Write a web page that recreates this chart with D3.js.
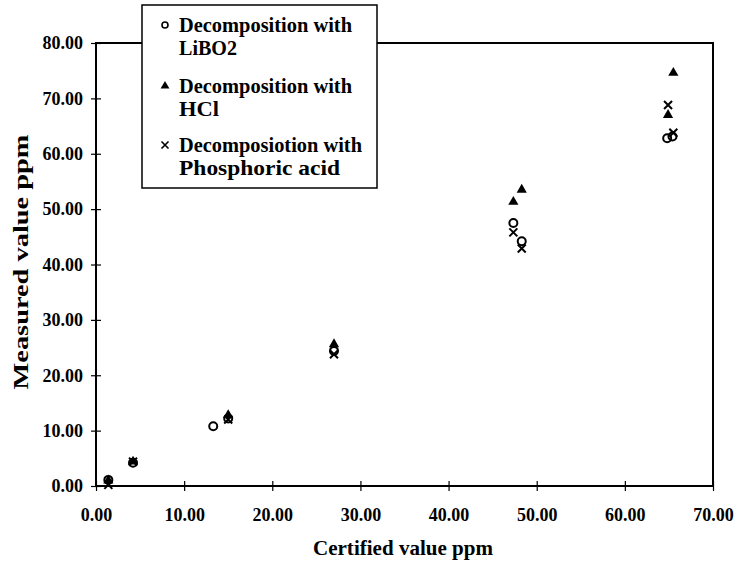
<!DOCTYPE html>
<html>
<head>
<meta charset="utf-8">
<script src="https://cdn.jsdelivr.net/npm/d3@7"></script>
<style>
  body { margin: 0; background: #fff; }
  text { font-family: "Liberation Serif", "Times New Roman", serif; font-weight: bold; fill: #000; }
</style>
</head>
<body>
<script>
  // values (ppm)
  var libo2X = [1.4, 4.2, 13.3, 15.0, 27.0, 47.35, 48.3, 64.8, 65.4];
  var libo2Y = [1.1, 4.2, 10.8, 12.2, 24.4, 47.5, 44.2, 62.8, 63.1];
  var hclX = [1.4, 4.2, 15.0, 27.0, 47.35, 48.3, 64.9, 65.5];
  var hclY = [1.0, 4.4, 12.8, 25.6, 51.3, 53.5, 67.0, 74.6];
  var phosX = [1.4, 4.2, 15.0, 27.0, 47.35, 48.3, 64.9, 65.5];
  var phosY = [0.2, 4.4, 12.0, 23.8, 45.8, 42.9, 68.8, 63.8];

  var xTicks = [0, 10, 20, 30, 40, 50, 60, 70];
  var yTicks = [0, 10, 20, 30, 40, 50, 60, 70, 80];
  var legendLines = [
    ["Decomposition with", "LiBO2"],
    ["Decomposition with", "HCl"],
    ["Decomposiotion with", "Phosphoric acid"]
  ];

  var width = 740, height = 564;
  var plotL = 96, plotR = 713, plotT = 43, plotB = 486;

  var svg = d3.select("body").append("svg")
    .attr("width", width)
    .attr("height", height);

  var x = d3.scaleLinear().domain([0, 70]).range([plotL, plotR]);
  var y = d3.scaleLinear().domain([0, 80]).range([plotB, plotT]);

  // frame
  svg.append("rect")
    .attr("x", plotL).attr("y", plotT)
    .attr("width", plotR - plotL).attr("height", plotB - plotT)
    .attr("fill", "none").attr("stroke", "#000").attr("stroke-width", 2);

  // axes with crossing ticks
  var xAxis = svg.append("g")
    .attr("transform", "translate(0," + plotB + ")")
    .call(d3.axisBottom(x).tickValues(xTicks).tickSize(5).tickFormat(d3.format(".2f")));
  xAxis.selectAll(".tick line").attr("y1", -5).attr("stroke-width", 1.2);
  xAxis.selectAll(".tick text").attr("y", 22).attr("dy", "0.71em")
    .style("font-size", "18px").style("font-family", "Liberation Serif").style("font-weight", "bold");
  xAxis.select(".domain").remove();

  var yAxis = svg.append("g")
    .attr("transform", "translate(" + plotL + ",0)")
    .call(d3.axisLeft(y).tickValues(yTicks).tickSize(5).tickFormat(d3.format(".2f")));
  yAxis.selectAll(".tick line").attr("x1", 5).attr("x2", -5).attr("stroke-width", 1.2);
  yAxis.selectAll(".tick text").attr("x", -13)
    .style("font-size", "18px").style("font-family", "Liberation Serif").style("font-weight", "bold");
  yAxis.select(".domain").remove();

  // axis titles
  svg.append("text")
    .attr("x", 403).attr("y", 555)
    .attr("text-anchor", "middle").attr("font-size", 21)
    .attr("textLength", 180).attr("lengthAdjust", "spacingAndGlyphs")
    .text("Certified value ppm");
  svg.append("text")
    .attr("transform", "translate(28,262) rotate(-90)")
    .attr("text-anchor", "middle").attr("font-size", 22)
    .attr("textLength", 255).attr("lengthAdjust", "spacingAndGlyphs")
    .text("Measured value ppm");

  var triangle = d3.symbol().type(d3.symbolTriangle).size(45);

  // series
  svg.selectAll(".libo2").data(d3.range(libo2X.length)).enter().append("circle")
    .attr("cx", function(i) { return x(libo2X[i]); })
    .attr("cy", function(i) { return y(libo2Y[i]); })
    .attr("r", 4)
    .attr("fill", "none").attr("stroke", "#000").attr("stroke-width", 2);

  svg.selectAll(".hcl").data(d3.range(hclX.length)).enter().append("path")
    .attr("d", triangle)
    .attr("transform", function(i) { return "translate(" + x(hclX[i]) + "," + y(hclY[i]) + ")"; })
    .attr("fill", "#000");

  svg.selectAll(".phos").data(d3.range(phosX.length)).enter().append("path")
    .attr("d", "M-4,-4L4,4M-4,4L4,-4")
    .attr("transform", function(i) { return "translate(" + x(phosX[i]) + "," + y(phosY[i]) + ")"; })
    .attr("stroke", "#000").attr("stroke-width", 2).attr("fill", "none");

  // legend
  var lg = svg.append("g");
  lg.append("rect")
    .attr("x", 142).attr("y", 5).attr("width", 235).attr("height", 183)
    .attr("fill", "#fff").attr("stroke", "#000").attr("stroke-width", 1.5);

  var firstY = [32, 93, 152];
  var firstW = [173, 173, 183];
  var secondW = [58, 40, 161];
  legendLines.forEach(function(lines, k) {
    var by = firstY[k];
    lg.append("text").attr("x", 179).attr("y", by).attr("font-size", 22)
      .attr("textLength", firstW[k]).attr("lengthAdjust", "spacingAndGlyphs").text(lines[0]);
    lg.append("text").attr("x", 179).attr("y", by + 23).attr("font-size", 22)
      .attr("textLength", secondW[k]).attr("lengthAdjust", "spacingAndGlyphs").text(lines[1]);
    var m = lg.append("g").attr("transform", "translate(165," + (by - 7) + ")");
    if (k === 0) {
      m.append("circle").attr("r", 3).attr("fill", "none").attr("stroke", "#000").attr("stroke-width", 1.6);
    } else if (k === 1) {
      m.append("path").attr("d", d3.symbol().type(d3.symbolTriangle).size(34)).attr("fill", "#000");
    } else {
      m.append("path").attr("d", "M-3.5,-3.5L3.5,3.5M-3.5,3.5L3.5,-3.5")
        .attr("stroke", "#000").attr("stroke-width", 1.6);
    }
  });
</script>
</body>
</html>
